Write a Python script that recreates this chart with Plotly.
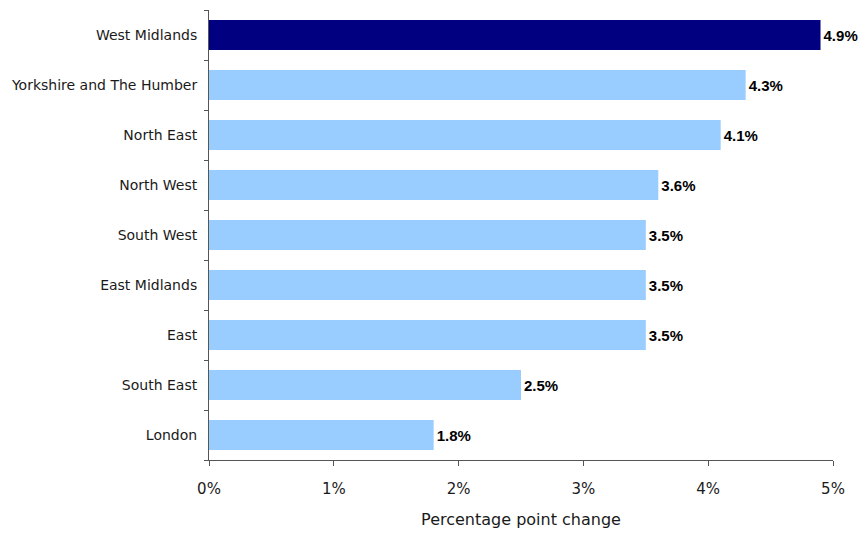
import plotly.graph_objects as go

regions = ["West Midlands", "Yorkshire and The Humber", "North East", "North West",
           "South West", "East Midlands", "East", "South East", "London"]
values = [4.9, 4.3, 4.1, 3.6, 3.5, 3.5, 3.5, 2.5, 1.8]
highlight = "West Midlands"
tick_vals = [0, 1, 2, 3, 4, 5]
tick_text = ["0%", "1%", "2%", "3%", "4%", "5%"]

colors = ["#000080" if r == highlight else "#99CCFF" for r in regions]

fig = go.Figure(go.Bar(
    x=values, y=regions, orientation="h",
    marker=dict(color=colors, line=dict(width=0)),
    width=0.6,
    text=[f"{v:.1f}%" for v in values],
    textposition="outside",
    textfont=dict(family="Liberation Sans, Arial", size=15, color="black", weight="bold"),
    cliponaxis=False,
))

fig.update_layout(
    width=864, height=536,
    margin=dict(l=209, r=31, t=10, b=76),
    plot_bgcolor="white", paper_bgcolor="white",
    showlegend=False,
    font=dict(family="DejaVu Sans, Verdana", size=14, color="#1a1a1a"),
)
fig.update_xaxes(
    range=[0, 5], tickvals=tick_vals, ticktext=tick_text,
    showgrid=False, zeroline=False,
    showline=True, linecolor="#555", linewidth=1,
    ticks="outside", ticklen=5, tickcolor="#555",
    ticklabelstandoff=10,
    tickfont=dict(size=15, family="DejaVu Sans, Verdana"),
    title=dict(text="Percentage point change", font=dict(size=16, family="DejaVu Sans, Verdana"), standoff=16),
)
fig.update_yaxes(
    categoryorder="array", categoryarray=regions[::-1],
    range=[-0.5, len(regions) - 0.5],
    showgrid=False, zeroline=False,
    showline=True, linecolor="#555", linewidth=1,
    ticks="outside", ticklen=4, tickcolor="#555", tickson="boundaries",
    ticklabelstandoff=8,
    tickfont=dict(size=14, family="DejaVu Sans, Verdana"),
)

fig.write_html("out.html")
